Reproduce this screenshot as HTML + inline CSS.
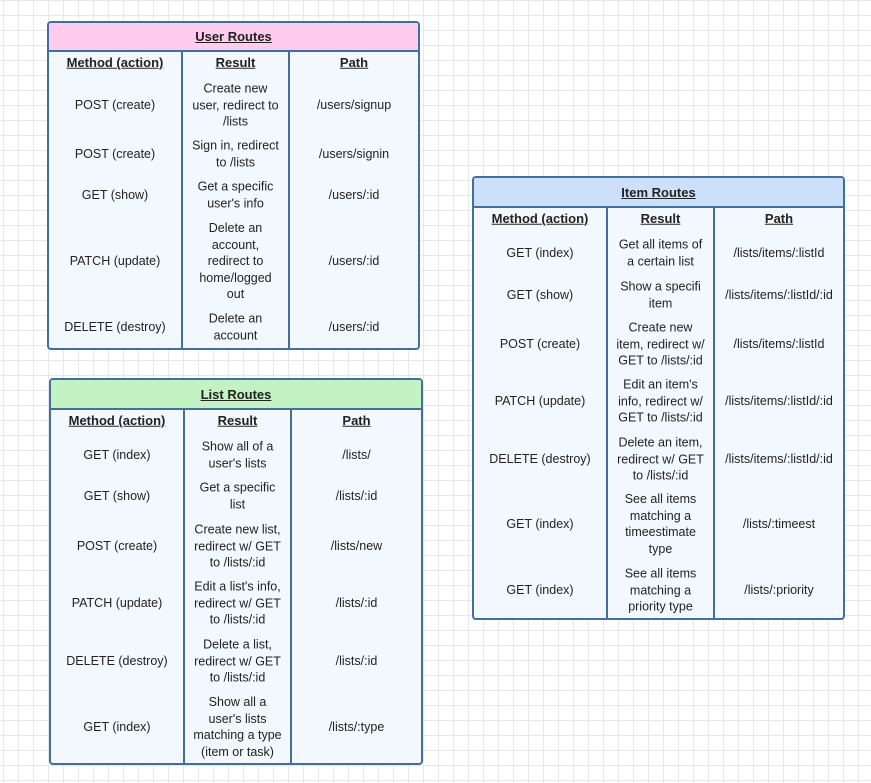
<!DOCTYPE html>
<html><head><meta charset="utf-8"><style>
body{margin:0;width:871px;height:783px;overflow:hidden;background-color:#fff;
background-image:linear-gradient(#e8e8e8 1px,transparent 1px),linear-gradient(90deg,#e8e8e8 1px,transparent 1px);
background-size:15px 15px;background-position:3px 0px;font-family:"Liberation Sans",sans-serif;color:#222;position:relative}
.t{position:absolute;border:2px solid #41709f;border-radius:4px;background:#f3f8fe;box-sizing:border-box}
.h{position:absolute;left:0;right:0;top:0;border-bottom:2px solid #41709f;font-weight:bold;text-decoration:underline;font-size:13px;display:flex;align-items:center;justify-content:center;border-radius:2px 2px 0 0}
.v{position:absolute;width:2px;background:#41709f;bottom:0}
.c{position:absolute;font-size:12.5px;line-height:16.5px;text-align:center;transform:translateY(-50%)}
.b{font-weight:bold;text-decoration:underline;font-size:13px}
</style></head><body>

<!-- User Routes -->
<div class="t" style="left:47px;top:21px;width:373px;height:329px">
<div class="h" style="height:27px;background:#ffccee">User Routes</div>
<div class="v" style="left:132px;top:27px"></div>
<div class="v" style="left:239px;top:27px"></div>
<div class="c b" style="left:0;width:132px;top:40px">Method (action)</div>
<div class="c b" style="left:134px;width:105px;top:40px">Result</div>
<div class="c b" style="left:241px;width:128px;top:40px">Path</div>

<div class="c" style="left:0;width:132px;top:82px">POST (create)</div>
<div class="c" style="left:134px;width:105px;top:82px">Create new<br>user, redirect to<br>/lists</div>
<div class="c" style="left:241px;width:128px;top:82px">/users/signup</div>

<div class="c" style="left:0;width:132px;top:131px">POST (create)</div>
<div class="c" style="left:134px;width:105px;top:131px">Sign in, redirect<br>to /lists</div>
<div class="c" style="left:241px;width:128px;top:131px">/users/signin</div>

<div class="c" style="left:0;width:132px;top:172px">GET (show)</div>
<div class="c" style="left:134px;width:105px;top:172px">Get a specific<br>user's info</div>
<div class="c" style="left:241px;width:128px;top:172px">/users/:id</div>

<div class="c" style="left:0;width:132px;top:238px">PATCH (update)</div>
<div class="c" style="left:134px;width:105px;top:238px">Delete an<br>account,<br>redirect to<br>home/logged<br>out</div>
<div class="c" style="left:241px;width:128px;top:238px">/users/:id</div>

<div class="c" style="left:0;width:132px;top:304px">DELETE (destroy)</div>
<div class="c" style="left:134px;width:105px;top:304px">Delete an<br>account</div>
<div class="c" style="left:241px;width:128px;top:304px">/users/:id</div>
</div>

<!-- List Routes -->
<div class="t" style="left:49px;top:378px;width:374px;height:387px">
<div class="h" style="height:28px;background:#c3f2c3">List Routes</div>
<div class="v" style="left:132px;top:28px"></div>
<div class="v" style="left:239px;top:28px"></div>
<div class="c b" style="left:0;width:132px;top:41px">Method (action)</div>
<div class="c b" style="left:134px;width:105px;top:41px">Result</div>
<div class="c b" style="left:241px;width:129px;top:41px">Path</div>

<div class="c" style="left:0;width:132px;top:75px">GET (index)</div>
<div class="c" style="left:134px;width:105px;top:75px">Show all of a<br>user's lists</div>
<div class="c" style="left:241px;width:129px;top:75px">/lists/</div>

<div class="c" style="left:0;width:132px;top:116px">GET (show)</div>
<div class="c" style="left:134px;width:105px;top:116px">Get a specific<br>list</div>
<div class="c" style="left:241px;width:129px;top:116px">/lists/:id</div>

<div class="c" style="left:0;width:132px;top:166px">POST (create)</div>
<div class="c" style="left:134px;width:105px;top:166px">Create new list,<br>redirect w/ GET<br>to /lists/:id</div>
<div class="c" style="left:241px;width:129px;top:166px">/lists/new</div>

<div class="c" style="left:0;width:132px;top:223px">PATCH (update)</div>
<div class="c" style="left:134px;width:105px;top:223px">Edit a list's info,<br>redirect w/ GET<br>to /lists/:id</div>
<div class="c" style="left:241px;width:129px;top:223px">/lists/:id</div>

<div class="c" style="left:0;width:132px;top:281px">DELETE (destroy)</div>
<div class="c" style="left:134px;width:105px;top:281px">Delete a list,<br>redirect w/ GET<br>to /lists/:id</div>
<div class="c" style="left:241px;width:129px;top:281px">/lists/:id</div>

<div class="c" style="left:0;width:132px;top:347px">GET (index)</div>
<div class="c" style="left:134px;width:105px;top:347px">Show all a<br>user's lists<br>matching a type<br>(item or task)</div>
<div class="c" style="left:241px;width:129px;top:347px">/lists/:type</div>
</div>

<!-- Item Routes -->
<div class="t" style="left:472px;top:176px;width:373px;height:444px">
<div class="h" style="height:28px;background:#cce0fb">Item Routes</div>
<div class="v" style="left:132px;top:28px"></div>
<div class="v" style="left:239px;top:28px"></div>
<div class="c b" style="left:0;width:132px;top:41px">Method (action)</div>
<div class="c b" style="left:134px;width:105px;top:41px">Result</div>
<div class="c b" style="left:241px;width:128px;top:41px">Path</div>

<div class="c" style="left:0;width:132px;top:75px">GET (index)</div>
<div class="c" style="left:134px;width:105px;top:75px">Get all items of<br>a certain list</div>
<div class="c" style="left:241px;width:128px;top:75px">/lists/items/:listId</div>

<div class="c" style="left:0;width:132px;top:117px">GET (show)</div>
<div class="c" style="left:134px;width:105px;top:117px">Show a specifi<br>item</div>
<div class="c" style="left:241px;width:128px;top:117px">/lists/items/:listId/:id</div>

<div class="c" style="left:0;width:132px;top:166px">POST (create)</div>
<div class="c" style="left:134px;width:105px;top:166px">Create new<br>item, redirect w/<br>GET to /lists/:id</div>
<div class="c" style="left:241px;width:128px;top:166px">/lists/items/:listId</div>

<div class="c" style="left:0;width:132px;top:223px">PATCH (update)</div>
<div class="c" style="left:134px;width:105px;top:223px">Edit an item's<br>info, redirect w/<br>GET to /lists/:id</div>
<div class="c" style="left:241px;width:128px;top:223px">/lists/items/:listId/:id</div>

<div class="c" style="left:0;width:132px;top:281px">DELETE (destroy)</div>
<div class="c" style="left:134px;width:105px;top:281px">Delete an item,<br>redirect w/ GET<br>to /lists/:id</div>
<div class="c" style="left:241px;width:128px;top:281px">/lists/items/:listId/:id</div>

<div class="c" style="left:0;width:132px;top:346px">GET (index)</div>
<div class="c" style="left:134px;width:105px;top:346px">See all items<br>matching a<br>timeestimate<br>type</div>
<div class="c" style="left:241px;width:128px;top:346px">/lists/:timeest</div>

<div class="c" style="left:0;width:132px;top:412px">GET (index)</div>
<div class="c" style="left:134px;width:105px;top:412px">See all items<br>matching a<br>priority type</div>
<div class="c" style="left:241px;width:128px;top:412px">/lists/:priority</div>
</div>

</body></html>
